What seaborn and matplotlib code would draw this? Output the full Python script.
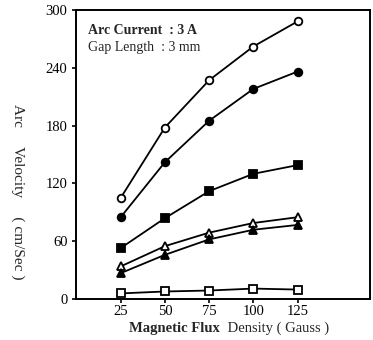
import pandas as pd
import matplotlib.pyplot as plt
import seaborn as sns

# Данные
flux = [25, 50, 75, 100, 125]
open_circle = [105, 178, 227, 262, 288]
filled_circle = [85, 142, 185, 218, 236]
filled_square = [53, 84, 112, 130, 139]
open_triangle = [34, 55, 69, 79, 85]
filled_triangle = [27, 46, 62, 72, 77]
open_square = [6, 8, 9, 11, 10]

series = [
    (open_circle, 'o', 'white'),
    (filled_circle, 'o', 'black'),
    (filled_square, 's', 'black'),
    (open_triangle, '^', 'white'),
    (filled_triangle, '^', 'black'),
    (open_square, 's', 'white'),
]

sns.set_theme(style="ticks")
plt.rcParams['font.family'] = ['Liberation Serif', 'DejaVu Serif']

fig = plt.figure(figsize=(3.73, 3.40), dpi=100)
ax = fig.add_axes([0.205, 0.12, 0.787, 0.851])

for vals, mk, fc in series:
    df = pd.DataFrame({'B': flux, 'v': vals})
    sns.lineplot(data=df, x='B', y='v', ax=ax, color='black', linewidth=1.3,
                 marker=mk, markersize=5.5, markerfacecolor=fc,
                 markeredgecolor='black', markeredgewidth=1.3)

ax.set_xlim(0, 166)
ax.set_ylim(0, 300)
ax.set_xticks(flux)
ax.set_yticks([0, 60, 120, 180, 240, 300])
ax.tick_params(axis='both', labelsize=10.5, length=3, width=1.2, colors='black')
ax.tick_params(axis='x', pad=1.5)
for s in ax.spines.values():
    s.set_linewidth(1.4)
    s.set_color('black')

ax.set_xlabel('')
ax.set_ylabel('')
fig.text(0.048, 0.435, 'Arc     Velocity     ( cm/Sec )', rotation=-90,
         ha='center', va='center', fontsize=11)
fig.text(0.345, 0.035, 'Magnetic Flux', fontweight='bold', fontsize=10.5,
         ha='left', va='center')
fig.text(0.6, 0.035, ' Density ( Gauss )', fontsize=10.5, ha='left', va='center')

ax.text(0.04, 0.93, 'Arc Current  : 3 A', transform=ax.transAxes,
        fontsize=10, fontweight='bold', va='center')
ax.text(0.04, 0.87, 'Gap Length  : 3 mm', transform=ax.transAxes,
        fontsize=10, va='center')

fig.savefig('out.png', dpi=100)
